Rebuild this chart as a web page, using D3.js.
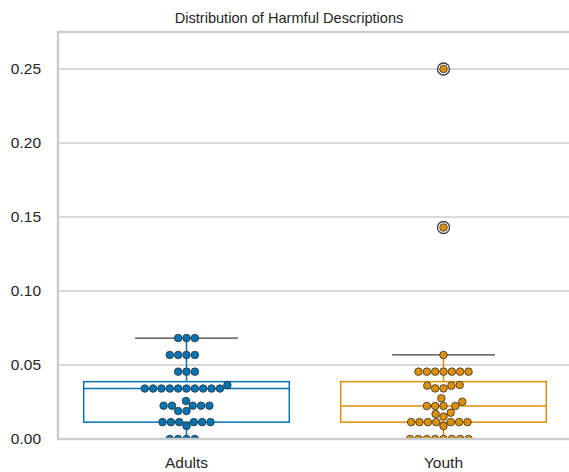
<!DOCTYPE html>
<html>
<head>
<meta charset="utf-8">
<script src="https://cdn.jsdelivr.net/npm/d3@7"></script>
<style>
  html, body { margin: 0; padding: 0; background: #ffffff; }
  svg { display: block; }
  text { font-family: "Liberation Sans", Arial, sans-serif; fill: #262626; }
</style>
</head>
<body>
<svg id="chart" width="569" height="472"></svg>
<script>
// Share of harmful descriptions per group
const categories = ["Adults", "Youth"];
const adultsValues = [
  0, 0, 0, 0,
  0.0088, 0.0114, 0.0114, 0.0114, 0.0114, 0.0114, 0.0114,
  0.0189, 0.0189, 0.0225, 0.0225, 0.0225, 0.0225, 0.0225, 0.0257,
  0.0341, 0.0341, 0.0341, 0.0341, 0.0341, 0.0341, 0.0341, 0.0341, 0.0341, 0.0341, 0.0365,
  0.0455, 0.0455, 0.0455,
  0.0568, 0.0568, 0.0568, 0.0568,
  0.0682, 0.0682, 0.0682
];
const youthValues = [
  0, 0, 0, 0, 0, 0, 0, 0,
  0.0088, 0.0114, 0.0114, 0.0114, 0.0114, 0.0114, 0.0114, 0.0114,
  0.0151, 0.0169, 0.0178,
  0.0223, 0.0223, 0.0223, 0.0223, 0.0252, 0.0275,
  0.0342, 0.0342, 0.0360, 0.0360, 0.0365,
  0.0455, 0.0455, 0.0455, 0.0455, 0.0455, 0.0455, 0.0455,
  0.0568,
  0.1429, 0.25
];
const seriesValues = [adultsValues, youthValues];
const colors = ["#0173b2", "#de8f05"];
const yTicks = [0, 0.05, 0.10, 0.15, 0.20, 0.25];
const yDomain = [0, 0.275];
const title = "Distribution of Harmful Descriptions";

const svg = d3.select("#chart");
const plot = { left: 58, top: 32, right: 572, bottom: 439 };

const x = d3.scaleBand().domain(categories).range([plot.left, plot.right]).padding(0);
const y = d3.scaleLinear().domain(yDomain).range([plot.bottom, plot.top]);

svg.append("defs").append("clipPath").attr("id", "plot-clip")
  .append("rect")
  .attr("x", plot.left).attr("y", plot.top)
  .attr("width", plot.right - plot.left).attr("height", plot.bottom - plot.top);

// grid lines
const gridG = svg.append("g");
gridG.selectAll("line").data(yTicks.filter(t => t > 0)).join("line")
  .attr("x1", plot.left).attr("x2", plot.right)
  .attr("y1", d => y(d)).attr("y2", d => y(d))
  .attr("stroke", "#cccccc").attr("stroke-width", 1.6);

// y axis labels
const yAxis = d3.axisLeft(y).tickValues(yTicks).tickFormat(d3.format(".2f")).tickSize(0).tickPadding(17);
const yAxisG = svg.append("g").attr("transform", `translate(${plot.left},0)`).call(yAxis);
yAxisG.select(".domain").remove();
yAxisG.selectAll("text").attr("font-size", 15.5).attr("font-family", "Liberation Sans, Arial, sans-serif").attr("fill", "#262626");

// x axis labels
const xAxis = d3.axisBottom(x).tickSize(0).tickPadding(18);
const xAxisG = svg.append("g").attr("transform", `translate(0,${plot.bottom})`).call(xAxis);
xAxisG.select(".domain").remove();
xAxisG.selectAll("text").attr("font-size", 15.5).attr("font-family", "Liberation Sans, Arial, sans-serif").attr("fill", "#262626");

// title
svg.append("text")
  .attr("x", 289).attr("y", 23)
  .attr("text-anchor", "middle").attr("font-size", 14.6)
  .text(title);

// box statistics (linear quantiles, 1.5 IQR whiskers)
function boxStats(values) {
  const v = values.slice().sort(d3.ascending);
  const q1 = d3.quantileSorted(v, 0.25);
  const med = d3.quantileSorted(v, 0.5);
  const q3 = d3.quantileSorted(v, 0.75);
  const iqr = q3 - q1;
  const inside = v.filter(d => d >= q1 - 1.5 * iqr && d <= q3 + 1.5 * iqr);
  return {
    q1, med, q3,
    lo: d3.min(inside), hi: d3.max(inside),
    fliers: v.filter(d => d < q1 - 1.5 * iqr || d > q3 + 1.5 * iqr)
  };
}

// swarm layout along the category axis
function swarm(values, cx, diam) {
  const pts = values.map(v => ({ v, x: cx, y: y(v) }));
  const order = d3.range(pts.length).sort((a, b) => pts[b].y - pts[a].y || a - b);
  const placed = [];
  order.forEach((idx, k) => {
    const p = pts[idx];
    if (k === 0) { placed.push(p); return; }
    const neighbors = placed.filter(q => Math.abs(q.y - p.y) < diam);
    const cands = [cx];
    neighbors.forEach(q => {
      const dy = p.y - q.y;
      const dx = Math.sqrt(Math.max(diam * diam - dy * dy, 0)) * 1.05;
      cands.push(q.x + dx, q.x - dx);
    });
    cands.sort((a, b) => (Math.abs(a - cx) - Math.abs(b - cx)) || (a - b));
    let chosen = cands[cands.length - 1];
    for (const c of cands) {
      const ok = neighbors.every(q => Math.hypot(q.x - c, q.y - p.y) >= diam - 1e-6);
      if (ok) { chosen = c; break; }
    }
    p.x = chosen;
    placed.push(p);
  });
  return pts;
}

const boxW = x.bandwidth() * 0.8;
const capW = x.bandwidth() * 0.4;
const marks = svg.append("g").attr("clip-path", "url(#plot-clip)");

categories.forEach((cat, i) => {
  const cx = x(cat) + x.bandwidth() / 2;
  const s = boxStats(seriesValues[i]);
  const g = marks.append("g");
  const col = colors[i];

  // whiskers
  g.append("line").attr("x1", cx).attr("x2", cx).attr("y1", y(s.q3)).attr("y2", y(s.hi))
    .attr("stroke", col).attr("stroke-width", 1.5);
  g.append("line").attr("x1", cx).attr("x2", cx).attr("y1", y(s.q1)).attr("y2", y(s.lo))
    .attr("stroke", col).attr("stroke-width", 1.5);
  // caps
  [s.hi, s.lo].forEach(v => {
    g.append("line").attr("x1", cx - capW / 2).attr("x2", cx + capW / 2)
      .attr("y1", y(v)).attr("y2", y(v))
      .attr("stroke", "#3f3f3f").attr("stroke-width", 1.3);
  });
  // box
  g.append("rect")
    .attr("x", cx - boxW / 2).attr("y", y(s.q3))
    .attr("width", boxW).attr("height", y(s.q1) - y(s.q3))
    .attr("fill", "none").attr("stroke", col).attr("stroke-width", 1.5);
  g.append("line").attr("x1", cx - boxW / 2).attr("x2", cx + boxW / 2)
    .attr("y1", y(s.med)).attr("y2", y(s.med))
    .attr("stroke", col).attr("stroke-width", 1.5);
  // fliers
  g.selectAll(".flier").data(s.fliers).join("circle")
    .attr("class", "flier")
    .attr("cx", cx).attr("cy", d => y(d)).attr("r", 6)
    .attr("fill", "none").attr("stroke", "#3f3f3f").attr("stroke-width", 1.3);

  // swarm points
  const pts = swarm(seriesValues[i], cx, 7.95);
  g.selectAll(".dot").data(pts).join("circle")
    .attr("class", "dot")
    .attr("cx", d => d.x).attr("cy", d => d.y).attr("r", 3.8)
    .attr("fill", col).attr("stroke", "#333333").attr("stroke-width", 0.8);
});

// spines drawn over the marks
svg.append("rect")
  .attr("x", plot.left).attr("y", plot.top)
  .attr("width", plot.right - plot.left).attr("height", plot.bottom - plot.top)
  .attr("fill", "none").attr("stroke", "#cccccc").attr("stroke-width", 2.4);
</script>
</body>
</html>
